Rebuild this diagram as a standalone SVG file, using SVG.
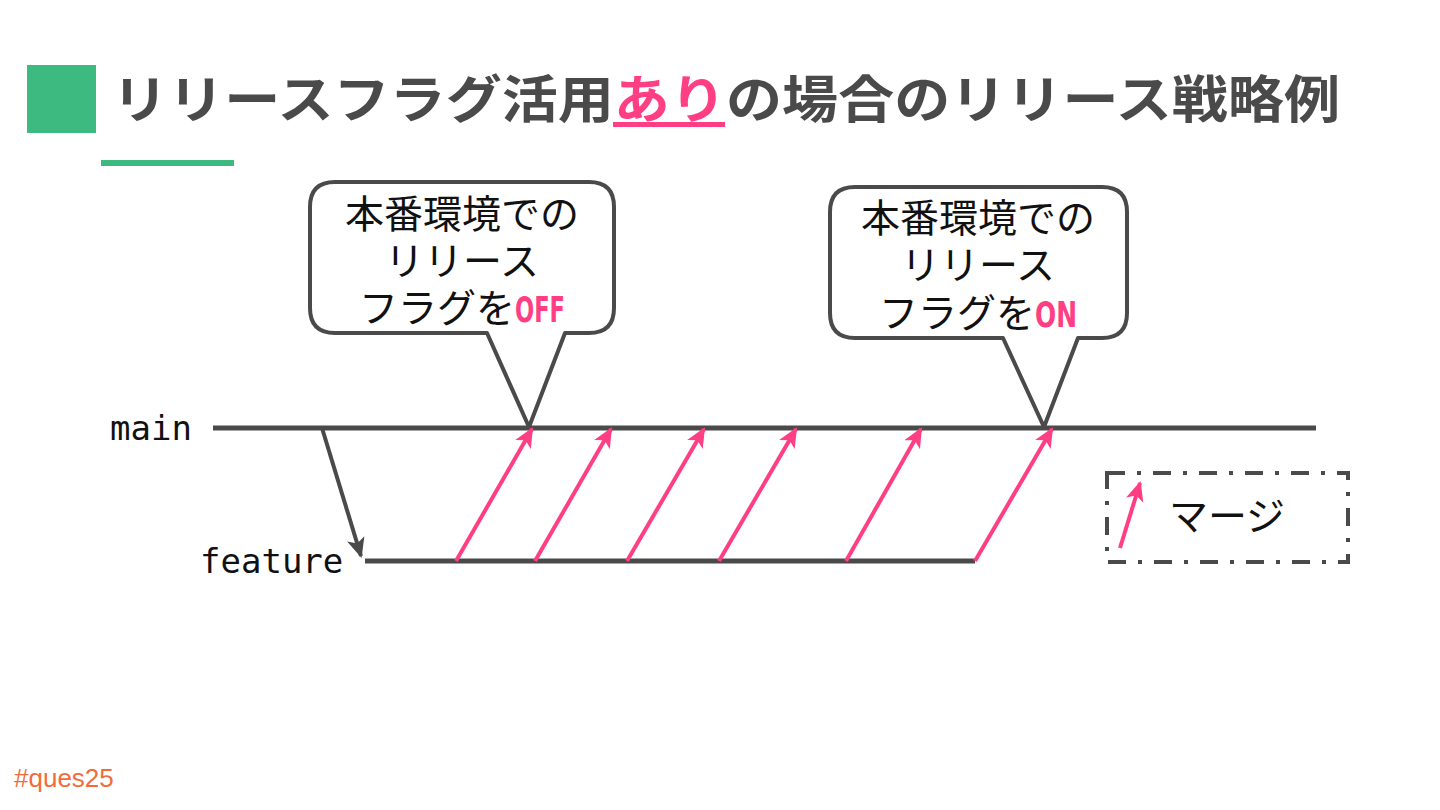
<svg xmlns="http://www.w3.org/2000/svg" width="1440" height="810" viewBox="0 0 1440 810">
<style>
.ln{stroke:#4a4a4a;stroke-width:5;fill:none}
.mg{stroke:#ff3e84;stroke-width:4;fill:none;marker-end:url(#pa)}
.bub{fill:#fff;stroke:#4a4a4a;stroke-width:4;stroke-linejoin:round}
.bt{font-family:"Noto Sans CJK JP","Noto Sans",sans-serif;font-size:39px;fill:#111;text-anchor:middle}
.pk{fill:#ff3e84;font-family:"DejaVu Sans Condensed","DejaVu Sans",sans-serif;font-weight:bold;font-size:36px}
.mono{font-family:"DejaVu Sans Mono","Liberation Mono",monospace;font-size:34px;fill:#111}
</style>
<defs>
<marker id="pa" viewBox="0 0 20 20" refX="18" refY="10" markerWidth="5" markerHeight="5" orient="auto" markerUnits="strokeWidth">
<path d="M0,1 L20,10 L0,19 L5,10 Z" fill="#ff3e84"/>
</marker>
<marker id="ga" viewBox="0 0 20 20" refX="18" refY="10" markerWidth="5" markerHeight="5" orient="auto" markerUnits="strokeWidth">
<path d="M0,1 L20,10 L0,19 L5,10 Z" fill="#4a4a4a"/>
</marker>
</defs>
<rect width="1440" height="810" fill="#fff"/>
<g id="title">
<rect x="27" y="65" width="69" height="68" fill="#3dba80"/>
<text x="112" y="118" font-family="Noto Sans CJK JP,sans-serif" font-weight="bold" font-size="51" fill="#4a4a4a" textLength="1228" lengthAdjust="spacingAndGlyphs">リリースフラグ活用<tspan fill="#ff3e84">あり</tspan>の場合のリリース戦略例</text>
<rect x="613" y="122" width="112" height="5" fill="#ff3e84"/>
<rect x="101" y="160" width="133" height="6" fill="#3dba80"/>
</g>
<g id="callout-off">
<path class="bub" d="M335,182 H589 Q614,182 614,207 V308 Q614,333 589,333 H565 L529,427 L487,333 H335 Q310,333 310,308 V207 Q310,182 335,182 Z"/>
<text class="bt" x="462" y="228">本番環境での</text>
<text class="bt" x="462" y="275">リリース</text>
<text class="bt" x="462" y="322">フラグを<tspan class="pk" textLength="50" lengthAdjust="spacingAndGlyphs">OFF</tspan></text>
</g>
<g id="callout-on">
<path class="bub" d="M855,187 H1102 Q1127,187 1127,212 V313 Q1127,338 1102,338 H1078 L1044,427 L1003,338 H855 Q830,338 830,313 V212 Q830,187 855,187 Z"/>
<text class="bt" x="978" y="232">本番環境での</text>
<text class="bt" x="978" y="279">リリース</text>
<text class="bt" x="978" y="327">フラグを<tspan class="pk" textLength="42" lengthAdjust="spacingAndGlyphs">ON</tspan></text>
</g>
<g id="main">
<text class="mono" x="110" y="440">main</text>
</g>
<g id="feature">
<text class="mono" x="200" y="573">feature</text>
</g>
<g id="connectors">
<line class="ln" x1="213" y1="428" x2="1316" y2="428"/>
<line class="ln" x1="365" y1="561" x2="975" y2="561" stroke-width="4"/>
<line x1="322" y1="428" x2="361" y2="556" stroke="#4a4a4a" stroke-width="4" marker-end="url(#ga)"/>
<line class="mg" x1="456" y1="561" x2="532" y2="429"/>
<line class="mg" x1="535" y1="561" x2="611" y2="429"/>
<line class="mg" x1="627" y1="561" x2="704" y2="429"/>
<line class="mg" x1="719" y1="561" x2="796" y2="429"/>
<line class="mg" x1="846" y1="561" x2="921" y2="429"/>
<line class="mg" x1="975" y1="561" x2="1052" y2="429"/>
</g>
<g id="legend">
<rect x="1107" y="473" width="241" height="89" fill="none" stroke="#4a4a4a" stroke-width="4" stroke-dasharray="18,12,4,12"/>
<line class="mg" x1="1120" y1="548" x2="1140" y2="483"/>
<text class="bt" x="1227" y="530" font-size="38">マージ</text>
</g>
<g id="footer">
<text x="14" y="787" font-family="Liberation Sans,sans-serif" font-size="26" fill="#f26b3a">#ques25</text>
</g>
</svg>
